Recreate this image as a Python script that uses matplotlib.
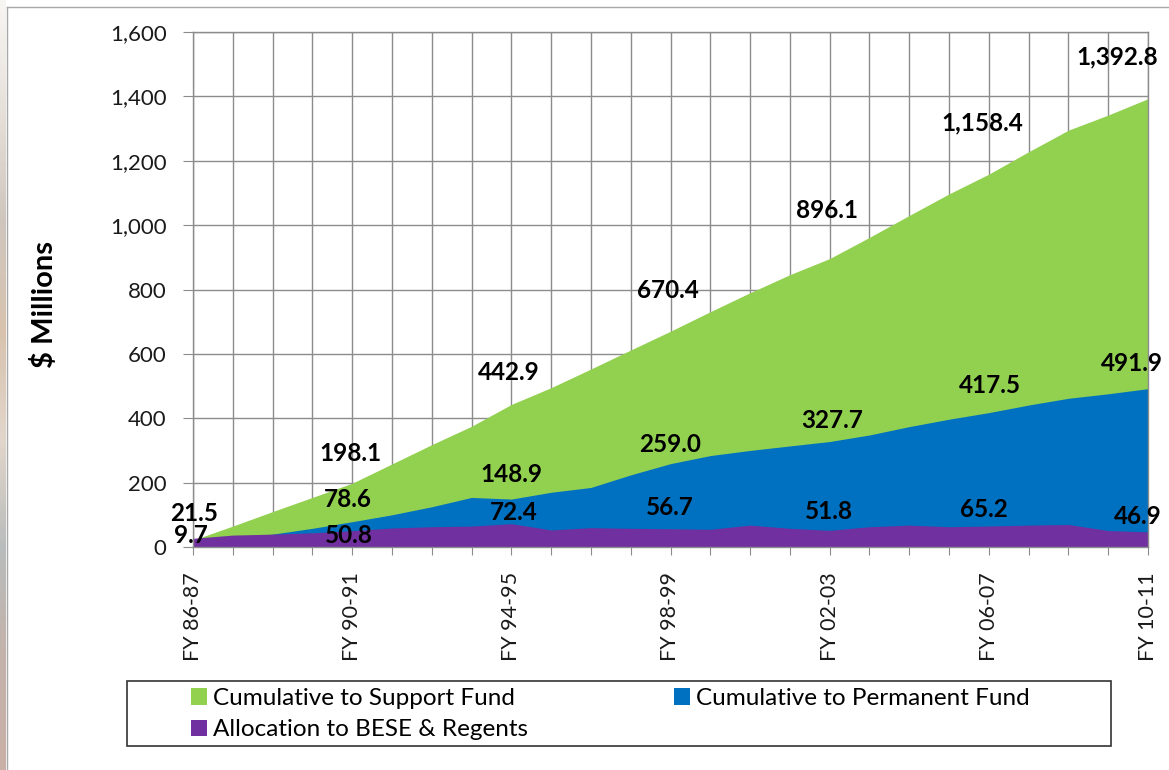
import numpy as np
import matplotlib.pyplot as plt
from matplotlib.colors import LinearSegmentedColormap
from matplotlib.patches import Patch, Rectangle
from matplotlib.lines import Line2D
from matplotlib.ticker import FuncFormatter

plt.rcParams['font.family'] = ['Lato', 'DejaVu Sans']

years = ["FY 86-87", "FY 87-88", "FY 88-89", "FY 89-90", "FY 90-91",
         "FY 91-92", "FY 92-93", "FY 93-94", "FY 94-95", "FY 95-96",
         "FY 96-97", "FY 97-98", "FY 98-99", "FY 99-00", "FY 00-01",
         "FY 01-02", "FY 02-03", "FY 03-04", "FY 04-05", "FY 05-06",
         "FY 06-07", "FY 07-08", "FY 08-09", "FY 09-10", "FY 10-11"]

# $ millions
support_fund = [21.5, 65, 110, 154, 198.1, 258, 318, 375, 442.9, 495,
                553, 612, 670.4, 731, 790, 846, 896.1, 962, 1030, 1097,
                1158.4, 1228, 1295, 1342, 1392.8]
permanent_fund = [9.7, 24, 40, 58, 78.6, 100, 125, 154, 148.9, 170,
                  185, 224, 259.0, 284, 300, 314, 327.7, 348, 374, 397,
                  417.5, 441, 462, 476, 491.9]
bese_regents = [27, 37, 40, 44, 50.8, 59, 63, 65, 72.4, 53,
                60, 58, 56.7, 55, 68, 58, 51.8, 63, 68, 63,
                65.2, 68, 70, 51, 46.9]

# which points carry a value label, and where the label sits (pixels from the point)
support_lab = [0, 4, 8, 12, 16, 20, 24]
support_off = [(1, -27), (-2, -30), (-3, -32), (-3, -41), (-3, -48), (-7, -51), (-31, -42)]
perm_lab = [0, 4, 8, 12, 16, 20, 24]
perm_off = [(-2, -8), (-4, -22), (0, -25), (0, -19), (2, -21), (1, -27), (-16, -25)]
bese_lab = [4, 8, 12, 16, 20, 24]
bese_off = [(-3, 5), (2, -11), (-1, -21), (-1, -19), (-5, -17), (-10, -15)]

green = '#92D050'
blue = '#0070C0'
purple = '#7030A0'
grid_c = '#8c8c8c'

W, H = 1169, 770
fig = plt.figure(figsize=(W / 100, H / 100), dpi=100)
ax = fig.add_axes([193 / W, 1 - 547 / H, (1148 - 193) / W, (547 - 32) / H])

x = np.arange(len(years))
ax.fill_between(x, 0, support_fund, color=green, lw=0, zorder=2)
ax.fill_between(x, 0, permanent_fund, color=blue, lw=0, zorder=3)
ax.fill_between(x, 0, bese_regents, color=purple, lw=0, zorder=4)

ax.set_xlim(0, len(years) - 1)
ax.set_ylim(0, 1600)
ax.set_yticks(np.arange(0, 1601, 200))
ax.yaxis.set_major_formatter(FuncFormatter(lambda v, p: f"{v:,.0f}"))
ax.set_xticks(x)
ax.set_xticklabels([y if i % 4 == 0 else "" for i, y in enumerate(years)], rotation=90)

ax.grid(True, color=grid_c, lw=1)
ax.set_axisbelow(True)
for s in ax.spines.values():
    s.set_color(grid_c)
    s.set_linewidth(1)
    s.set_zorder(5)
ax.tick_params(axis='y', length=7, color=grid_c, labelsize=16, pad=12, labelcolor='#1a1a1a')
ax.tick_params(axis='x', length=6, color=grid_c, labelsize=15.5, pad=12, labelcolor='#1a1a1a')

px = 0.72  # pixel -> points at dpi 100


def put_labels(series, idx, offs):
    for i, (dx, dy) in zip(idx, offs):
        ax.annotate(f"{series[i]:,.1f}", (x[i], series[i]),
                    xytext=(dx * px, -dy * px), textcoords='offset points',
                    ha='center', va='center', fontsize=17.5, fontweight='bold',
                    color='black', zorder=6, annotation_clip=False)


put_labels(support_fund, support_lab, support_off)
put_labels(permanent_fund, perm_lab, perm_off)
put_labels(bese_regents, bese_lab, bese_off)

fig.text(45 / W, 1 - 305 / H, "$ Millions", rotation=90, ha='center', va='center',
         fontsize=21, fontweight='bold')

handles = [Patch(facecolor=green), Patch(facecolor=purple), Patch(facecolor=blue)]
labels = ["Cumulative to Support Fund", "Allocation to BESE & Regents",
          "Cumulative to Permanent Fund"]
fig.legend(handles, labels, ncol=2, loc='upper left', frameon=False,
           bbox_to_anchor=(191 / W, 1 - 688 / H), borderpad=0, borderaxespad=0,
           handlelength=0.65, handleheight=0.65, handletextpad=0.25,
           columnspacing=6.0, labelspacing=0.42, fontsize=17.5)
fig.patches.append(Rectangle((127 / W, 1 - 746 / H), (1111 - 127) / W, (746 - 681) / H,
                             transform=fig.transFigure, fill=False,
                             edgecolor='#333333', lw=1.2))

# slide frame: left coloured strip and thin border
strip = fig.add_axes([0, 0, 6 / W, 1])
cmap = LinearSegmentedColormap.from_list(
    'strip', ['#f7f5f2', '#e6e0da', '#cfc6bd', '#d8c2ae', '#e2d6cb',
              '#b9bcbc', '#c4b2aa', '#c9b0a6'])
strip.imshow(np.linspace(0, 1, 200).reshape(-1, 1), aspect='auto', cmap=cmap)
strip.axis('off')
fig.add_artist(Line2D([6.5 / W, 6.5 / W], [0, 1 - 6.5 / H], color='#a8a8a8', lw=1))
fig.add_artist(Line2D([6.5 / W, 1], [1 - 6.5 / H, 1 - 6.5 / H], color='#a8a8a8', lw=1))

fig.savefig('out.png', dpi=100)
